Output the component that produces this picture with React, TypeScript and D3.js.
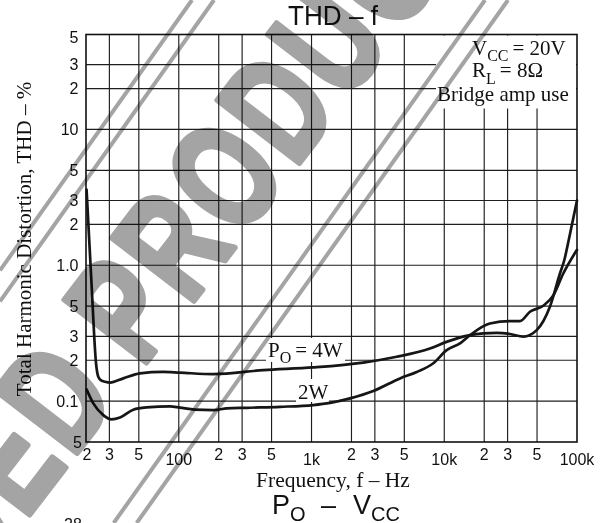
import React from 'react';
import * as d3 from 'd3';

// ---- data ----
const freqTicks = [20, 30, 50, 100, 200, 300, 500, 1000, 2000, 3000, 5000, 10000, 20000, 30000, 50000, 100000];
const freqTickLabels = ['2', '3', '5', '100', '2', '3', '5', '1k', '2', '3', '5', '10k', '2', '3', '5', '100k'];
const thdTicks = [50, 30, 20, 10, 5, 3, 2, 1, 0.5, 0.3, 0.2, 0.1, 0.05];
const thdTickLabels = ['5', '3', '2', '10', '5', '3', '2', '1.0', '5', '3', '2', '0.1', '5'];

const freq4W = [20.2, 22, 23.8, 24.75, 26, 27.8, 30.3, 38.2, 51, 76, 102, 182, 433, 1030, 2450, 4380, 7800, 10400, 15600, 19700, 24800, 31300, 39400, 49700, 62500, 74400, 80000, 88000, 100000];
const thd4W = [3.6, 0.74, 0.19, 0.151, 0.142, 0.139, 0.137, 0.147, 0.16, 0.164, 0.162, 0.158, 0.169, 0.177, 0.192, 0.212, 0.244, 0.273, 0.306, 0.315, 0.318, 0.312, 0.298, 0.333, 0.495, 0.87, 1.08, 1.65, 3.0];

const freq2W = [20.2, 22.7, 27, 31.2, 36.1, 45.4, 57.3, 86, 102, 132, 182, 230, 325, 580, 1030, 1380, 1950, 2920, 4640, 6200, 8270, 10430, 13130, 15630, 22050, 31300, 37200, 44200, 55700, 66300, 78800, 100000];
const thd2W = [0.122, 0.0962, 0.0789, 0.0733, 0.0757, 0.0865, 0.0899, 0.0915, 0.0896, 0.0866, 0.0859, 0.0883, 0.0893, 0.0908, 0.0935, 0.097, 0.1047, 0.1186, 0.147, 0.164, 0.19, 0.237, 0.266, 0.306, 0.373, 0.388, 0.388, 0.455, 0.504, 0.6, 0.87, 1.3];

const SANS = '"Liberation Sans", Arial, Helvetica, sans-serif';
const SERIF = '"Liberation Serif", "Times New Roman", serif';

export default function App() {
  const W = 607;
  const H = 523;
  const left = 86, right = 577, top = 34.5, bottom = 442;
  const x = d3.scaleLog().domain([20, 100000]).range([left, right]);
  const y = d3.scaleLog().domain([0.05, 50]).range([bottom, top]);
  const line = d3
    .line<[number, number]>()
    .x((d) => x(d[0]))
    .y((d) => y(d[1]))
    .curve(d3.curveMonotoneX);
  const d4 = line(freq4W.map((f, i) => [f, thd4W[i]] as [number, number])) || '';
  const d2 = line(freq2W.map((f, i) => [f, thd2W[i]] as [number, number])) || '';

  const gridColor = '#1e1e1e';
  const wmGray = '#a4a4a4';
  const slope = 0.71;

  return (
    <svg
      width={W}
      height={H}
      viewBox={`0 0 ${W} ${H}`}
      style={{ position: 'absolute', left: 0, top: 0, display: 'block', background: '#fff' }}
    >
      <rect x={0} y={0} width={W} height={H} fill="#fff" />

      {/* grid */}
      <g stroke={gridColor} strokeWidth={1.15}>
        {freqTicks.slice(1, -1).map((f) => (
          <line key={'v' + f} x1={x(f)} x2={x(f)} y1={top} y2={bottom} />
        ))}
        {thdTicks.slice(1, -1).map((v) => (
          <line key={'h' + v} x1={left} x2={right} y1={y(v)} y2={y(v)} />
        ))}
      </g>

      {/* white label boxes */}
      <rect x={436} y={top + 1} width={right - 436 - 1} height={73} fill="#fff" />
      <rect x={266} y={338} width={79} height={24} fill="#fff" />
      <rect x={296} y={379} width={33} height={23} fill="#fff" />

      {/* frame */}
      <rect x={left} y={top} width={right - left} height={bottom - top} fill="none" stroke="#111" strokeWidth={1.6} />

      {/* curves */}
      <path d={d4} fill="none" stroke="#161616" strokeWidth={2.7} strokeLinejoin="round" strokeLinecap="round" />
      <path d={d2} fill="none" stroke="#161616" strokeWidth={2.7} strokeLinejoin="round" strokeLinecap="round" />

      {/* curve labels */}
      <text x={268} y={357} fontFamily={SERIF} fontSize={21} fill="#111">
        P<tspan fontSize={16} dy={6}>O</tspan>
        <tspan dy={-6} dx={4}>= 4W</tspan>
      </text>
      <text x={298} y={399} fontFamily={SERIF} fontSize={21} fill="#111">2W</text>

      {/* condition box text */}
      <text x={472} y={55} fontFamily={SERIF} fontSize={21} fill="#111">
        V<tspan fontSize={16} dy={6}>CC</tspan>
        <tspan dy={-6} dx={4}>= 20V</tspan>
      </text>
      <text x={472} y={77} fontFamily={SERIF} fontSize={21} fill="#111">
        R<tspan fontSize={16} dy={7}>L</tspan>
        <tspan dy={-7} dx={4}>= 8Ω</tspan>
      </text>
      <text x={437} y={101} fontFamily={SERIF} fontSize={21} fill="#111">Bridge amp use</text>

      {/* x tick labels */}
      {freqTicks.map((f, i) => (
        <text
          key={'xl' + f}
          x={x(f) + (i === 0 ? 1 : 0)}
          y={freqTickLabels[i].length > 1 ? 465 : 460}
          textAnchor="middle"
          fontFamily={SANS}
          fontSize={16}
          fill="#111"
        >
          {freqTickLabels[i]}
        </text>
      ))}

      {/* y tick labels */}
      {thdTicks.map((v, i) => {
        const last = i === thdTicks.length - 1;
        return (
          <text
            key={'yl' + v}
            x={last ? 82 : 78.5}
            y={y(v) + (last ? 6 : 5.5) + (i === 0 ? 3 : 0)}
            textAnchor="end"
            fontFamily={SANS}
            fontSize={16}
            fill="#111"
          >
            {thdTickLabels[i]}
          </text>
        );
      })}

      {/* titles */}
      <text x={333} y={25} textAnchor="middle" fontFamily={SANS} fontSize={28} textLength={90} lengthAdjust="spacingAndGlyphs" fill="#111">
        THD – f
      </text>
      <text x={333} y={487} textAnchor="middle" fontFamily={SERIF} fontSize={21.5} fill="#111">
        Frequency, f – Hz
      </text>
      <text
        transform={`translate(31, 239) rotate(-90)`}
        textAnchor="middle"
        fontFamily={SERIF}
        fontSize={21}
        fill="#111"
      >
        Total Harmonic Distortion, THD – %
      </text>

      {/* next chart title (cut off) */}
      <text y={514} fontFamily={SANS} fontSize={27} fill="#111">
        <tspan x={272}>P</tspan>
        <tspan fontSize={20} dy={7}>O</tspan>
        <tspan x={321} dy={-7}>–</tspan>
        <tspan x={353}>V</tspan>
        <tspan fontSize={20} dy={7}>CC</tspan>
      </text>
      <text x={64} y={530} fontFamily={SANS} fontSize={16} fill="#111">28</text>

      {/* watermark */}
      <g style={{ mixBlendMode: 'multiply' }}>
        <g stroke={wmGray} strokeWidth={4}>
          {[192, 214].map((c) => (
            <line key={'wa' + c} x1={c} y1={0} x2={0} y2={c / slope} />
          ))}
          {[485, 508].map((c) => (
            <line key={'wb' + c} x1={c} y1={0} x2={c - slope * H} y2={H} />
          ))}
        </g>
        <g transform="translate(99,336) rotate(-52.5) scale(0.72,1)">
          <text
            x={0}
            y={53.7}
            fontFamily={SANS}
            fontWeight="bold"
            fontSize={150}
            fill={wmGray}
            stroke={wmGray}
            strokeWidth={6}
            strokeLinejoin="round"
            style={{ letterSpacing: '8px' }}
          >
            PRODUCT
          </text>
          <text
            x={-42}
            y={53.7}
            textAnchor="end"
            fontFamily={SANS}
            fontWeight="bold"
            fontSize={150}
            fill={wmGray}
            stroke={wmGray}
            strokeWidth={6}
            strokeLinejoin="round"
            style={{ letterSpacing: '8px' }}
          >
            DISCONTINUED
          </text>
        </g>
      </g>
    </svg>
  );
}
